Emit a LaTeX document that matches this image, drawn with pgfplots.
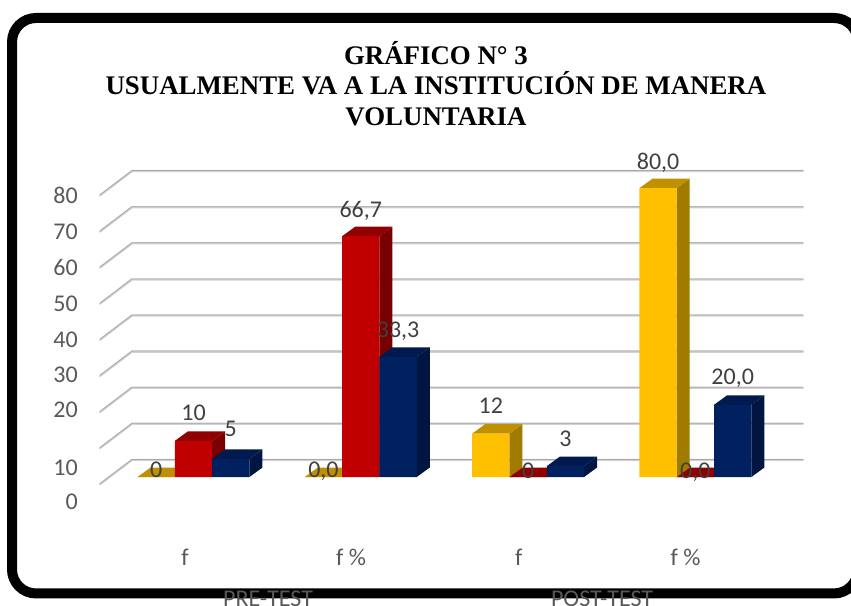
\documentclass[border=0pt]{standalone}
\usepackage{pgfplots}
\pgfplotsset{compat=1.18}
\usepackage{fontspec}
\setmainfont{Carlito}
\newfontfamily\titlefont{Liberation Serif}
\definecolor{yfront}{HTML}{FFC000}\definecolor{ytop}{HTML}{BF9000}\definecolor{yside}{HTML}{A07B00}
\definecolor{rfront}{HTML}{C00000}\definecolor{rtop}{HTML}{900000}\definecolor{rside}{HTML}{780000}
\definecolor{bfront}{HTML}{002060}\definecolor{btop}{HTML}{001A4F}\definecolor{bside}{HTML}{001640}
\definecolor{txt}{HTML}{404040}\definecolor{axt}{HTML}{595959}
\definecolor{gridl}{HTML}{D2D2D2}\definecolor{gridd}{HTML}{A8A8A8}
% top and side faces of one bar: centre x, value, top colour, side colour
\newcommand{\barfaces}[4]{%
  \pgfmathsetmacro\xa{#1-0.1115}\pgfmathsetmacro\xb{#1+0.1115}%
  \pgfmathsetmacro\xc{#1-0.1115+0.0777}\pgfmathsetmacro\xd{#1+0.1115+0.0777}%
  \pgfmathsetmacro\yt{#2+2.63}\pgfmathsetmacro\ys{2.63}%
  \edef\temp{\noexpand\addplot[fill=#4,draw=none,forget plot] coordinates {(\xb,0)(\xd,\ys)(\xd,\yt)(\xb,#2)} --cycle;
    \noexpand\addplot[fill=#3,draw=none,forget plot] coordinates {(\xa,#2)(\xb,#2)(\xd,\yt)(\xc,\yt)} --cycle;}%
  \temp}
% wall line at one value
\newcommand{\wall}[1]{%
  \pgfmathsetmacro\yb{#1+4.73}\pgfmathsetmacro\yf{#1-2.0}%
  \edef\temp{\noexpand\addplot[draw=gridl,line width=1.7pt,line cap=round,forget plot] coordinates {(-0.5589,\yf)(-0.3676,\yb)(3.6432,\yb)};
    \noexpand\addplot[draw=gridd,line width=0.55pt,yshift=0.4pt,forget plot] coordinates {(-0.5589,\yf)(-0.3676,\yb)(3.6432,\yb)};}%
  \temp}
\begin{document}
\begin{tikzpicture}
\useasboundingbox (0,0) rectangle (638.25pt,454.5pt);
\clip (0,0) rectangle (638.25pt,454.5pt);
% frame
\draw[black,line width=7.5pt,rounded corners=18pt] (9pt,9.4pt) rectangle (643.5pt,441pt);
\begin{axis}[
  at={(0,0)},anchor=south west,
  scale only axis,width=638.25pt,height=454.5pt,
  xmin=-1.1566,xmax=3.9301,ymin=-35.73,ymax=132.13,
  clip=false,
  axis line style={draw=none},
  tick style={draw=none},
  xtick={-0.0508,0.9415,1.9440,2.9417},
  xticklabels={f,f \%,f,f \%},
  xticklabel style={anchor=center,yshift=36.75pt,font=\fontsize{18}{20}\selectfont,text=axt},
  ytick={-6.93,2.49,18.56,28.25,37.95,47.9,57.9,68.0,78.1},
  yticklabels={0,10,20,30,40,50,60,70,80},
  yticklabel style={anchor=east,xshift=58.5pt,font=\fontsize{18}{20}\selectfont,text=axt,inner xsep=0pt},
  title={GRÁFICO N° 3\\USUALMENTE VA A LA INSTITUCIÓN DE MANERA\\VOLUNTARIA},
  title style={at={(0.5123,0.849)},anchor=center,align=center,yshift=0pt,
    font=\titlefont\bfseries\fontsize{20.15}{22.9}\selectfont,text=black},
]
\wall{0}\wall{10}\wall{20}\wall{30}\wall{40}\wall{50}\wall{60}\wall{70}\wall{80}
% yellow series
\barfaces{-0.2231}{0}{ytop}{yside}\barfaces{0.7769}{0}{ytop}{yside}\barfaces{1.7769}{12}{ytop}{yside}\barfaces{2.7769}{80}{ytop}{yside}
\addplot[ybar,bar width=28pt,bar shift=-28pt,fill=yfront,draw=none] coordinates {(0,0)(1,0)(2,12)(3,80)};
% red series
\barfaces{0}{10}{rtop}{rside}\barfaces{1}{66.7}{rtop}{rside}\barfaces{2}{0}{rtop}{rside}\barfaces{3}{0}{rtop}{rside}
\addplot[ybar,bar width=28pt,bar shift=0pt,fill=rfront,draw=none] coordinates {(0,10)(1,66.7)(2,0)(3,0)};
% blue series
\barfaces{0.2231}{5}{btop}{bside}\barfaces{1.2231}{33.3}{btop}{bside}\barfaces{2.2231}{3}{btop}{bside}\barfaces{3.2231}{20}{btop}{bside}
\addplot[ybar,bar width=28pt,bar shift=28pt,fill=bfront,draw=none] coordinates {(0,5)(1,33.3)(2,3)(3,20)};
% data labels
\addplot[draw=none,mark=none,forget plot,
  point meta=explicit symbolic,
  visualization depends on={\thisrow{dy}\as\dy},
  nodes near coords,
  every node near coord/.append style={anchor=center,yshift=\dy pt,inner sep=0pt,text height=12pt,text depth=0pt,
    font=\fontsize{18}{20}\selectfont,text=txt},
] table[x=x,y=y,meta=label] {
x y label dy
-0.2231 0 0 6
0 10 10 21.1
0.2231 5 5 22.5
0.7769 0 0,0 6
1 66.7 66,7 19.7
1.2231 33.3 33,3 20.1
1.7769 12 12 21
2 0 0 5.25
2.2231 3 3 21.1
2.7769 80 80,0 19.9
3 0 0,0 5.25
3.2231 20 20,0 20.9
};
% second level of the category axis
\node[font=\fontsize{18}{20}\selectfont,text=axt,anchor=center,inner sep=0pt] at (axis cs:0.4458,-33.6) {PRE-TEST};
\node[font=\fontsize{18}{20}\selectfont,text=axt,anchor=center,inner sep=0pt] at (axis cs:2.4421,-33.6) {POST-TEST};
\end{axis}
\end{tikzpicture}
\end{document}
